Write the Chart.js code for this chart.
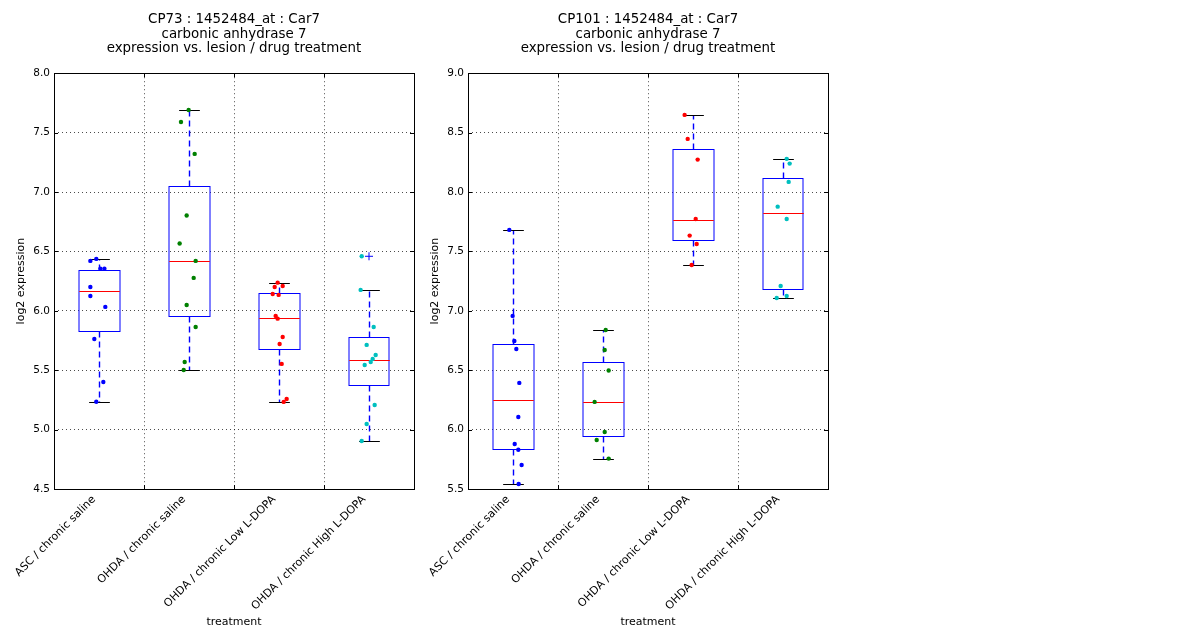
<!DOCTYPE html>
<html lang="en">
<head>
    <meta charset="UTF-8">
    <title>Car7 expression</title>
    <script src="https://cdn.jsdelivr.net/npm/chart.js@4.4.0/dist/chart.umd.min.js"></script>
    <style>
        body { margin: 0; background: #fff; width: 1200px; height: 640px; position: relative; overflow: hidden; }
        .panel { position: absolute; top: 0; width: 430px; height: 640px; }
        #p1 { left: 0; }
        #p2 { left: 414px; }
    </style>
</head>
<body>
    <div class="panel" id="p1"><canvas id="chart1"></canvas></div>
    <div class="panel" id="p2"><canvas id="chart2"></canvas></div>

    <script>
        const categories = ['ASC / chronic saline', 'OHDA / chronic saline',
                            'OHDA / chronic Low L-DOPA', 'OHDA / chronic High L-DOPA'];
        const groupColors = ['#0000ff', '#008000', '#ff0000', '#00bfbf'];

        // CP73 points (value, x position with jitter)
        const cp73Values = [
            [6.42, 6.437, 6.20, 6.125, 6.355, 6.355, 6.033, 5.763, 5.401, 5.235],
            [7.691, 7.590, 7.321, 6.802, 6.566, 6.42, 6.277, 6.049, 5.864, 5.569, 5.502],
            [6.237, 6.201, 6.209, 6.142, 6.134, 5.957, 5.934, 5.780, 5.721, 5.553, 5.258, 5.233],
            [6.459, 6.176, 5.864, 5.713, 5.628, 5.595, 5.569, 5.544, 5.207, 5.047, 4.904]
        ];
        const cp73Jitter = [
            [0.904, 0.97, 0.904, 0.904, 1.015, 1.06, 1.07, 0.948, 1.048, 0.97],
            [1.996, 1.911, 2.063, 1.974, 1.896, 2.074, 2.052, 1.974, 2.074, 1.952, 1.941],
            [2.985, 2.952, 3.041, 2.930, 2.996, 2.963, 2.985, 3.041, 3.007, 3.030, 3.085, 3.052],
            [3.919, 3.907, 4.052, 3.974, 4.074, 4.041, 4.019, 3.952, 4.063, 3.974, 3.919]
        ];
        // box stats: [whisker low, q1, median, q3, whisker high]
        const cp73Stats = [
            [5.23, 5.828, 6.164, 6.347, 6.434],
            [5.499, 5.954, 6.417, 7.054, 7.688],
            [5.23, 5.676, 5.937, 6.153, 6.232],
            [4.902, 5.373, 5.589, 5.783, 6.173]
        ];
        const cp73Outliers = [[4, 6.459]];

        // CP101
        const cp101Values = [
            [7.681, 6.957, 6.746, 6.679, 6.393, 6.106, 5.879, 5.831, 5.702, 5.542],
            [6.839, 6.67, 6.497, 6.233, 5.98, 5.913, 5.756],
            [8.649, 8.447, 8.273, 7.773, 7.633, 7.563, 7.386],
            [8.279, 8.239, 8.085, 7.877, 7.773, 7.209, 7.125, 7.108]
        ];
        const cp101Jitter = [
            [0.959, 0.996, 1.015, 1.037, 1.070, 1.059, 1.019, 1.059, 1.096, 1.063],
            [2.030, 2.019, 2.063, 1.907, 2.019, 1.930, 2.063],
            [2.907, 2.941, 3.052, 3.030, 2.963, 3.041, 2.985],
            [4.041, 4.074, 4.063, 3.941, 4.041, 3.974, 4.041, 3.930]
        ];
        const cp101Stats = [
            [5.54, 5.834, 6.247, 6.724, 7.678],
            [5.753, 5.944, 6.230, 6.572, 6.836],
            [7.383, 7.594, 7.768, 8.360, 8.646],
            [7.106, 7.181, 7.821, 8.122, 8.276]
        ];
        const cp101Outliers = [];

        const FONT = 'DejaVu Sans';

        const boxPlugin = {
            id: 'boxes',
            afterLayout(chart) {
                // center the title over the plot area, like matplotlib does
                const tb = chart.titleBlock;
                if (tb) {
                    tb.left = chart.chartArea.left;
                    tb.right = chart.chartArea.right;
                    tb.width = tb.right - tb.left;
                }
            },
            beforeDatasetsDraw(chart) {
                const stats = chart.options.plugins.boxes.stats;
                const x = chart.scales.x, y = chart.scales.y;
                const c = chart.ctx;
                c.save();
                stats.forEach((s, i) => {
                    const xc = Math.round(x.getPixelForValue(i + 1)) + 0.5;
                    const hw = x.getPixelForValue(i + 1 + 0.225) - x.getPixelForValue(i + 1);
                    const cw = x.getPixelForValue(i + 1 + 0.115) - x.getPixelForValue(i + 1);
                    const [lo, q1, med, q3, hi] = s.map(v => Math.round(y.getPixelForValue(v)) + 0.5);
                    // whiskers
                    c.strokeStyle = '#0000ff';
                    c.lineWidth = 1.4;
                    c.setLineDash([6, 4]);
                    c.beginPath();
                    c.moveTo(xc, q3); c.lineTo(xc, hi);
                    c.moveTo(xc, q1); c.lineTo(xc, lo);
                    c.stroke();
                    c.setLineDash([]);
                    c.lineWidth = 1;
                    // caps
                    c.strokeStyle = '#000';
                    c.beginPath();
                    c.moveTo(xc - cw, hi); c.lineTo(xc + cw, hi);
                    c.moveTo(xc - cw, lo); c.lineTo(xc + cw, lo);
                    c.stroke();
                    // box
                    c.strokeStyle = '#0000ff';
                    c.strokeRect(Math.round(xc - hw), q3, Math.round(2 * hw), q1 - q3);
                    // median
                    c.strokeStyle = '#ff0000';
                    c.beginPath();
                    c.moveTo(xc - hw, med); c.lineTo(xc + hw, med);
                    c.stroke();
                });
                c.restore();
            },
            afterDraw(chart) {
                const a = chart.chartArea, c = chart.ctx;
                const x = chart.scales.x, y = chart.scales.y;
                c.save();
                c.strokeStyle = '#000';
                c.lineWidth = 1;
                c.beginPath();
                // inward tick marks
                y.ticks.forEach(t => {
                    const py = Math.round(y.getPixelForValue(t.value)) + 0.5;
                    c.moveTo(a.left, py); c.lineTo(a.left + 4, py);
                    c.moveTo(a.right, py); c.lineTo(a.right - 4, py);
                });
                [1.5, 2.5, 3.5].forEach(v => {
                    const px = Math.round(x.getPixelForValue(v)) + 0.5;
                    c.moveTo(px, a.top); c.lineTo(px, a.top + 4);
                    c.moveTo(px, a.bottom); c.lineTo(px, a.bottom - 4);
                });
                c.stroke();
                c.strokeRect(Math.round(a.left) + 0.5, Math.round(a.top) + 0.5,
                             Math.round(a.right - a.left), Math.round(a.bottom - a.top));
                c.restore();
            }
        };

        function makeChart(id, title, values, jitter, stats, outliers, yMin, yMax) {
            const datasets = values.map((vals, i) => ({
                label: categories[i],
                data: vals.map((v, j) => ({ x: jitter[i][j], y: v })),
                backgroundColor: groupColors[i],
                borderColor: groupColors[i],
                pointRadius: 2.2,
                borderWidth: 0
            }));
            datasets.push({
                label: 'outliers',
                data: outliers.map(o => ({ x: o[0], y: o[1] })),
                pointStyle: 'cross',
                pointRadius: 4,
                borderColor: '#0000ff',
                borderWidth: 1
            });

            return new Chart(document.getElementById(id), {
                type: 'scatter',
                data: { datasets },
                plugins: [boxPlugin],
                options: {
                    responsive: true,
                    maintainAspectRatio: false,
                    animation: false,
                    layout: { padding: { left: 0, right: 16, top: 0, bottom: 0 } },
                    plugins: {
                        legend: { display: false },
                        tooltip: { enabled: false },
                        boxes: { stats },
                        title: {
                            display: true,
                            text: title,
                            color: '#000',
                            font: { family: FONT, size: 13.4, weight: 'normal', lineHeight: 1.1 },
                            padding: { top: 12, bottom: 17 }
                        }
                    },
                    scales: {
                        x: {
                            type: 'linear',
                            min: 0.5,
                            max: 4.5,
                            afterBuildTicks(scale) {
                                scale.ticks = [0.5, 1, 1.5, 2, 2.5, 3, 3.5, 4, 4.5].map(v => ({ value: v }));
                            },
                            afterFit(scale) { scale.height = 151; },
                            ticks: {
                                autoSkip: false,
                                minRotation: 45,
                                maxRotation: 45,
                                padding: 4,
                                labelOffset: -5,
                                color: '#000',
                                font: { family: FONT, size: 11 },
                                callback: v => Number.isInteger(v) ? categories[v - 1] : ''
                            },
                            grid: {
                                drawTicks: false,
                                color: ctx => (ctx.tick && ctx.tick.value % 1 === 0.5 &&
                                               ctx.tick.value > 0.5 && ctx.tick.value < 4.5)
                                               ? 'rgba(0,0,0,0.7)' : 'rgba(0,0,0,0)'
                            },
                            border: { display: false, dash: [1, 3] },
                            title: {
                                display: true,
                                text: 'treatment',
                                color: '#000',
                                font: { family: FONT, size: 11 },
                                padding: { top: 0, bottom: 11 }
                            }
                        },
                        y: {
                            min: yMin,
                            max: yMax,
                            afterFit(scale) { scale.width = 54; },
                            ticks: {
                                stepSize: 0.5,
                                padding: 4,
                                color: '#000',
                                font: { family: FONT, size: 10.5 },
                                callback: v => v.toFixed(1)
                            },
                            grid: {
                                drawTicks: false,
                                color: ctx => (ctx.tick && ctx.tick.value > yMin && ctx.tick.value < yMax)
                                               ? 'rgba(0,0,0,0.7)' : 'rgba(0,0,0,0)'
                            },
                            border: { display: false, dash: [1, 3] },
                            title: {
                                display: true,
                                text: 'log2 expression',
                                color: '#000',
                                font: { family: FONT, size: 11 },
                                padding: { top: 15, bottom: 0 }
                            }
                        }
                    }
                }
            });
        }

        makeChart('chart1',
            ['CP73 : 1452484_at : Car7', 'carbonic anhydrase 7', 'expression vs. lesion / drug treatment'],
            cp73Values, cp73Jitter, cp73Stats, cp73Outliers, 4.5, 8.0);
        makeChart('chart2',
            ['CP101 : 1452484_at : Car7', 'carbonic anhydrase 7', 'expression vs. lesion / drug treatment'],
            cp101Values, cp101Jitter, cp101Stats, cp101Outliers, 5.5, 9.0);
    </script>
</body>
</html>
